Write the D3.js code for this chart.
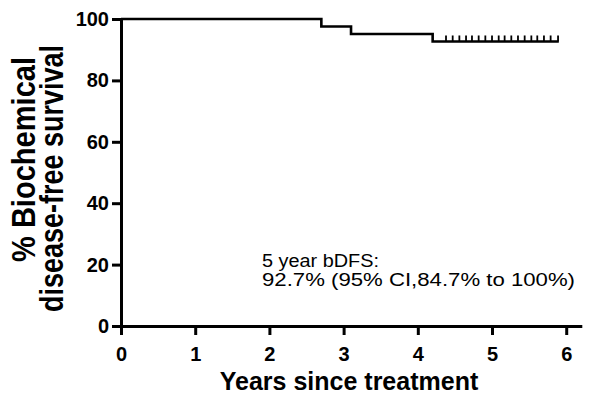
<!DOCTYPE html>
<html><head><meta charset="utf-8">
<script src="https://cdn.jsdelivr.net/npm/d3@7"></script>
<style>
html,body{margin:0;padding:0;background:#fff;}
svg{display:block;}
text{font-family:"Liberation Sans",Arial,sans-serif;fill:#000;}
</style></head>
<body>
<script>
// ---- data ----
const eventTimes = [0, 2.70, 3.10, 4.20];          // years at which survival drops
const survivalPct = [100, 97.56, 95.12, 92.68];     // survival after each step
const censorTimes = [4.38, 4.47, 4.56, 4.65, 4.73, 4.82, 4.91, 5.00, 5.09,
                     5.17, 5.26, 5.35, 5.44, 5.53, 5.61, 5.70, 5.79, 5.89];
const followUpEnd = 5.90;
const xTickValues = [0, 1, 2, 3, 4, 5, 6];
const yTickValues = [0, 20, 40, 60, 80, 100];
const xTitle = "Years since treatment";
const yTitleLines = ["% Biochemical", "disease-free survival"];
const noteLines = ["5 year bDFS:", "92.7% (95% CI,84.7% to 100%)"];

const W = 600, H = 407;
const svg = d3.select("body").append("svg").attr("width", W).attr("height", H);

const x = d3.scaleLinear().domain([0, 6.21]).range([121, 581.8]);
const y = d3.scaleLinear().domain([0, 100]).range([326, 19]);

// axes
const xAxis = svg.append("g").attr("transform", `translate(0,${y(0)})`)
  .call(d3.axisBottom(x).tickValues(xTickValues).tickFormat(d3.format("d")).tickSize(9).tickPadding(12).tickSizeOuter(0));
const yAxis = svg.append("g").attr("transform", `translate(${x(0)},0)`)
  .call(d3.axisLeft(y).tickValues(yTickValues).tickFormat(d3.format("d")).tickSize(9).tickPadding(3).tickSizeOuter(0));
[xAxis, yAxis].forEach(g => {
  g.selectAll(".domain").attr("stroke", "#000").attr("stroke-width", 3);
  g.selectAll(".tick line").attr("stroke", "#000").attr("stroke-width", 3);
  g.selectAll(".tick text").attr("font-size", 20).attr("font-weight", "bold")
    .attr("font-family", '"Liberation Sans",Arial,sans-serif').attr("fill", "#000");
});

// KM step curve
const pts = eventTimes.map((t, i) => [t, survivalPct[i]]);
pts.push([followUpEnd, survivalPct[survivalPct.length - 1]]);
svg.append("path")
  .attr("d", d3.line().x(d => x(d[0])).y(d => y(d[1])).curve(d3.curveStepAfter)(pts))
  .attr("fill", "none").attr("stroke", "#000").attr("stroke-width", 2.6);

// censor marks
const lastS = survivalPct[survivalPct.length - 1];
svg.append("g").selectAll("line").data(censorTimes).join("line")
  .attr("x1", d => x(d)).attr("x2", d => x(d))
  .attr("y1", y(lastS)).attr("y2", y(lastS) - 6)
  .attr("stroke", "#000").attr("stroke-width", 1.8);

// axis titles
svg.append("text").attr("x", 349).attr("y", 390).attr("text-anchor", "middle")
  .attr("font-size", 25).attr("font-weight", "bold").text(xTitle);

const yTitlePos = [{bx: 35, cy: 159.5, len: 205}, {bx: 63, cy: 178.5, len: 267}];
yTitleLines.forEach((t, i) => {
  svg.append("text")
    .attr("transform", `translate(${yTitlePos[i].bx},${yTitlePos[i].cy}) scale(1.22,1) rotate(-90)`)
    .attr("text-anchor", "middle").attr("font-size", 27).attr("font-weight", "bold")
    .attr("textLength", yTitlePos[i].len).attr("lengthAdjust", "spacingAndGlyphs").text(t);
});

// annotation
const noteLens = [117, 313];
noteLines.forEach((t, i) => {
  svg.append("text").attr("x", 262).attr("y", 266.5 + i * 19.5)
    .attr("font-size", 17.5).attr("textLength", noteLens[i]).attr("lengthAdjust", "spacingAndGlyphs").text(t);
});
</script>
</body></html>
